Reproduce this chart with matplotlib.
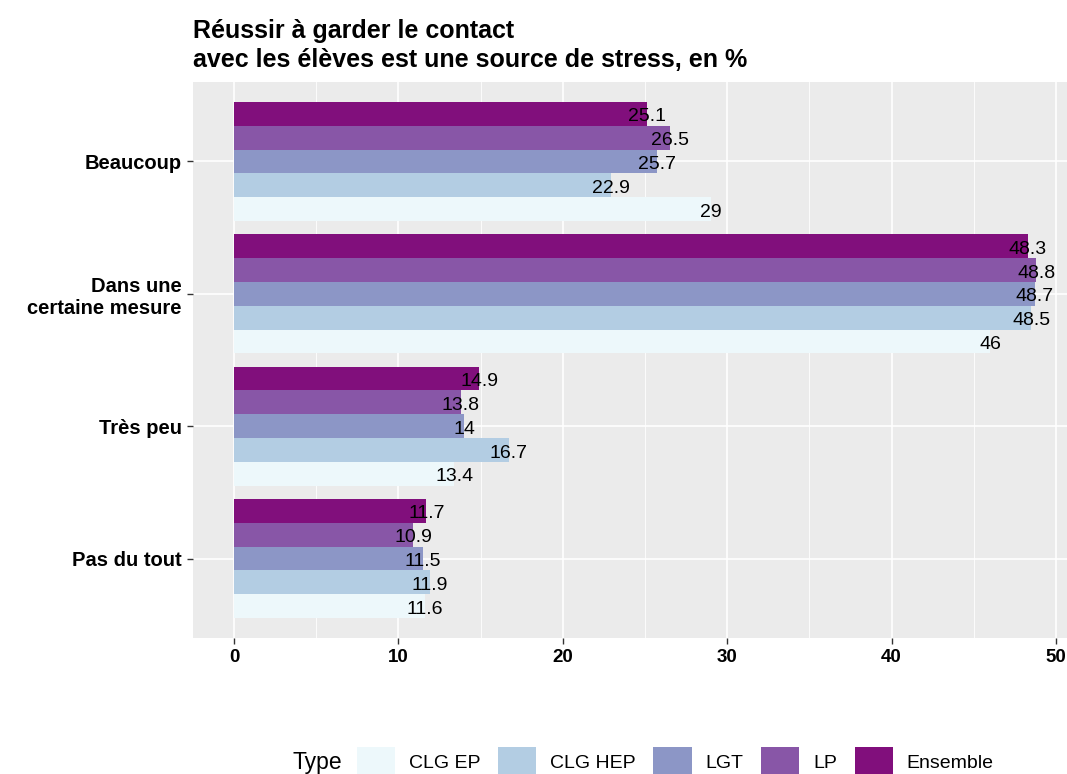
import numpy as np
import matplotlib.pyplot as plt
import matplotlib.transforms as mtransforms
from matplotlib.patches import Patch

plt.rcParams['font.family'] = ['Liberation Sans', 'DejaVu Sans']

categories = ['Beaucoup', 'Dans une\ncertaine mesure', 'Très peu', 'Pas du tout']
types = ['CLG EP', 'CLG HEP', 'LGT', 'LP', 'Ensemble']
colors = ['#EDF8FB', '#B3CDE3', '#8C96C6', '#8856A7', '#810F7C']

clg_ep = [29, 46, 13.4, 11.6]
clg_hep = [22.9, 48.5, 16.7, 11.9]
lgt = [25.7, 48.7, 14, 11.5]
lp = [26.5, 48.8, 13.8, 10.9]
ensemble = [25.1, 48.3, 14.9, 11.7]
series = [clg_ep, clg_hep, lgt, lp, ensemble]

fig = plt.figure(figsize=(10.67, 7.74), dpi=100)
ax = fig.add_axes([0.1809, 0.1757, 0.8473, 0.7183])
ax.set_facecolor('#EBEBEB')

# texte un peu plus bas que le centre, comme dans ggplot
down = mtransforms.ScaledTranslation(0, -3 / 100, fig.dpi_scale_trans)

# categories from top to bottom, groups dodged (first type at the bottom)
ypos = np.arange(len(categories))[::-1] + 1
bar_h = 0.9 / len(types)
for i, (vals, col) in enumerate(zip(series, colors)):
    y = ypos - 0.45 + bar_h * (i + 0.5)
    ax.barh(y, vals, height=bar_h, color=col, zorder=3)
    for yy, v in zip(y, vals):
        ax.text(v, yy, f'{v:g}', ha='center', va='center', fontsize=14,
                color='black', zorder=4, transform=ax.transData + down)

ax.set_xlim(-2.5, 52.5)
ax.set_ylim(0.4, 4.6)
ax.set_xticks([0, 10, 20, 30, 40, 50])
ax.set_xticks([5, 15, 25, 35, 45], minor=True)
ax.set_yticks(ypos)
ax.set_yticklabels(categories, fontsize=14.5, fontweight='bold', multialignment='right')
for lab in ax.get_yticklabels():
    lab.set_transform(lab.get_transform() + down)
for lab in ax.get_xticklabels():
    lab.set_fontsize(13.5)
    lab.set_fontweight('bold')
ax.grid(True, which='major', color='white', linewidth=1.2, zorder=0)
ax.grid(True, which='minor', axis='x', color='white', linewidth=0.6, zorder=0)
ax.tick_params(axis='both', which='major', length=4, width=1, color='#333333',
               labelcolor='black', pad=4)
ax.tick_params(axis='x', which='minor', length=0)
for s in ax.spines.values():
    s.set_visible(False)

fig.text(0.1809, 0.975, 'Réussir à garder le contact\navec les élèves est une source de stress, en %',
         fontsize=18, fontweight='bold', ha='left', va='top', linespacing=1.25)

handles = [Patch(facecolor=c, edgecolor='none') for c in colors]
fig.text(0.274, 0.0155, 'Type', fontsize=16.5, ha='left', va='center')
fig.legend(handles, types, loc='center', bbox_to_anchor=(0.633, 0.0155), ncol=5,
           frameon=False, fontsize=14, handlelength=1.96, handleheight=2.0,
           handletextpad=0.72, columnspacing=0.9)

fig.savefig('out.png', dpi=100)
